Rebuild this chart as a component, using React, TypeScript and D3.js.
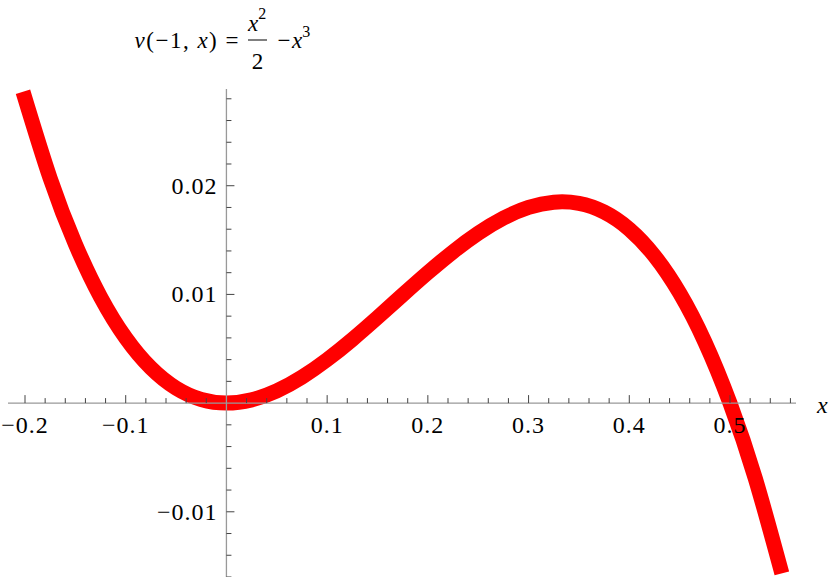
import React, { useEffect, useRef } from 'react';
import * as d3 from 'd3';

const xs = [-0.202, -0.175, -0.15, -0.125, -0.1, -0.075, -0.05, -0.025, 0, 0.025, 0.05, 0.075, 0.1, 0.125, 0.15, 0.175, 0.2, 0.225, 0.25, 0.275, 0.3, 0.325, 0.35, 0.375, 0.4, 0.425, 0.45, 0.475, 0.5, 0.525, 0.5515];
const vs = [0.028644, 0.0206719, 0.014625, 0.0097656, 0.006, 0.0032344, 0.001375, 0.0003281, 0, 0.0002969, 0.001125, 0.0023906, 0.004, 0.0058594, 0.007875, 0.0099531, 0.012, 0.0139219, 0.015625, 0.0170156, 0.018, 0.0184844, 0.018375, 0.0175781, 0.016, 0.0135469, 0.010125, 0.0056406, 0, -0.0068906, -0.015666];

const xTicks = [-0.2, -0.1, 0.1, 0.2, 0.3, 0.4, 0.5];
const xTickLabels = ['\u22120.2', '\u22120.1', '0.1', '0.2', '0.3', '0.4', '0.5'];
const yTicks = [-0.01, 0.01, 0.02];
const yTickLabels = ['\u22120.01', '0.01', '0.02'];

const W = 830;
const H = 577;
const FONT = 'Liberation Serif';

export default function App() {
  const ref = useRef<SVGSVGElement | null>(null);

  useEffect(() => {
    const svg = d3.select(ref.current);
    svg.selectAll('*').remove();

    const x = d3.scaleLinear().domain([-0.2, 0.5]).range([25, 730]);
    const y = d3.scaleLinear().domain([-0.016, 0.0289]).range([577, 89]);
    const x0 = x(0);
    const y0 = y(0);

    const pts: [number, number][] = xs.map((v, i) => [v, vs[i]]);
    const line = d3
      .line<[number, number]>()
      .x((d) => x(d[0]))
      .y((d) => y(d[1]))
      .curve(d3.curveNatural);

    svg
      .append('path')
      .attr('d', line(pts) || '')
      .attr('fill', 'none')
      .attr('stroke', '#ff0000')
      .attr('stroke-width', 15)
      .attr('stroke-linecap', 'butt')
      .attr('stroke-linejoin', 'round');

    const xMinor = d3.range(-10, 29).map((i) => i * 0.02).filter((v) => Math.abs(v) > 1e-9);
    const yMinor = d3.range(-8, 15).map((i) => i * 0.002).filter((v) => Math.abs(v) > 1e-9);
    const isMajorX = (v: number) => Math.abs(v * 10 - Math.round(v * 10)) < 1e-6;
    const isMajorY = (v: number) => Math.abs(v * 100 - Math.round(v * 100)) < 1e-6;

    // x axis
    svg.append('line').attr('x1', 8).attr('x2', 796).attr('y1', y0).attr('y2', y0)
      .attr('stroke', '#999').attr('stroke-width', 1.3);
    svg.selectAll('line.xm').data(xMinor).join('line').attr('class', 'xm')
      .attr('x1', (d) => x(d)).attr('x2', (d) => x(d))
      .attr('y1', y0).attr('y2', (d) => y0 - (isMajorX(d) ? 8 : 5))
      .attr('stroke', '#444').attr('stroke-width', 1);

    const setFont = (sel: any, size: number) =>
      sel.attr('font-family', FONT).style('font-family', `'${FONT}'`).attr('font-size', size);

    svg.selectAll('text.xl').data(xTicks).join('text').attr('class', 'xl')
      .attr('x', (d) => x(d)).attr('y', y0 + 30)
      .attr('text-anchor', 'middle').attr('letter-spacing', 1)
      .call((s: any) => setFont(s, 24))
      .text((d, i) => xTickLabels[i]);

    setFont(svg.append('text').attr('x', 817).attr('y', 413), 24)
      .style('font-style', 'italic').text('x');

    // y axis
    svg.append('line').attr('x1', x0).attr('x2', x0).attr('y1', 89).attr('y2', 577)
      .attr('stroke', '#999').attr('stroke-width', 1.3);
    svg.selectAll('line.ym').data(yMinor).join('line').attr('class', 'ym')
      .attr('x1', x0).attr('x2', (d) => x0 + (isMajorY(d) ? 8 : 5))
      .attr('y1', (d) => y(d)).attr('y2', (d) => y(d))
      .attr('stroke', '#444').attr('stroke-width', 1);

    svg.selectAll('text.yl').data(yTicks).join('text').attr('class', 'yl')
      .attr('x', x0 - 9).attr('y', (d) => y(d) + 8)
      .attr('text-anchor', 'end').attr('letter-spacing', 1)
      .call((s: any) => setFont(s, 24))
      .text((d, i) => yTickLabels[i]);

    // title: v(-1, x) = x^2/2 - x^3
    const t1 = setFont(svg.append('text').attr('x', 240).attr('y', 48).attr('text-anchor', 'end').attr('letter-spacing', 1.5), 23);
    t1.append('tspan').style('font-style', 'italic').text('v');
    t1.append('tspan').text('(\u22121, ');
    t1.append('tspan').style('font-style', 'italic').text('x');
    t1.append('tspan').text(') =');

    const t2 = setFont(svg.append('text').attr('x', 248).attr('y', 31), 23);
    t2.append('tspan').style('font-style', 'italic').text('x');
    t2.append('tspan').attr('font-size', 16).attr('dy', -12).text('2');

    svg.append('line').attr('x1', 248).attr('x2', 267).attr('y1', 40).attr('y2', 40)
      .attr('stroke', '#000').attr('stroke-width', 1);

    setFont(svg.append('text').attr('x', 257.5).attr('y', 69).attr('text-anchor', 'middle'), 23).text('2');
    setFont(svg.append('text').attr('x', 284).attr('y', 48).attr('text-anchor', 'middle'), 23).text('\u2212');

    const t3 = setFont(svg.append('text').attr('x', 292).attr('y', 48), 23);
    t3.append('tspan').style('font-style', 'italic').text('x');
    t3.append('tspan').attr('font-size', 16).attr('dy', -11).text('3');
  }, []);

  return (
    <svg
      ref={ref}
      width={W}
      height={H}
      style={{ position: 'absolute', left: 0, top: 0, background: '#fff' }}
    />
  );
}
